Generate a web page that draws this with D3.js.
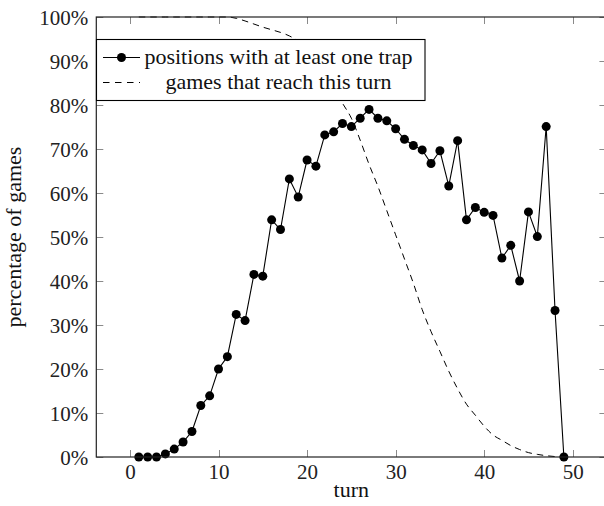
<!DOCTYPE html>
<html>
<head>
<meta charset="utf-8">
<script src="https://cdn.jsdelivr.net/npm/d3@7"></script>
</head>
<body style="margin:0;background:#fff">
<svg id="chart" width="604" height="506" style="display:block"></svg>
<script>
// Turn numbers
const turns = d3.range(1, 50);

// Share of positions with at least one trap, per turn (%)
const trapPct = [
  0, 0, 0, 0.7, 1.8, 3.4, 5.8, 11.7, 13.9, 20,
  22.8, 32.4, 31, 41.5, 41.1, 53.9, 51.7, 63.2, 59.1, 67.5,
  66.1, 73.2, 73.9, 75.8, 75.1, 77, 79, 77, 76.4, 74.6,
  72.2, 70.8, 69.8, 66.7, 69.6, 61.6, 71.9, 53.9, 56.7, 55.6,
  54.9, 45.2, 48.1, 40, 55.7, 50.1, 75.1, 33.3, 0
];

// Share of games that are still running at each turn (%)
const reachPct = [
  100, 100, 100, 100, 100, 100, 100, 100, 100, 100,
  100, 99.7, 99.1, 98.4, 97.7, 97.1, 96.5, 95.7, 94.5, 92.6,
  90.2, 87.2, 83.8, 80.4, 77, 72, 66.5, 61.5, 56, 50.5,
  45, 39.5, 33.5, 28.5, 24, 19.5, 15.5, 12, 9.5, 7,
  5, 3.8, 2.6, 1.7, 1, 0.6, 0.3, 0.1, 0
];

// Axis ticks
const xTicks = [0, 10, 20, 30, 40, 50];
const yTicks = [0, 10, 20, 30, 40, 50, 60, 70, 80, 90, 100];

const seriesLabels = ["positions with at least one trap", "games that reach this turn"];

const FONT = '"Liberation Serif"';

const svg = d3.select("#chart");

const plotLeft = 96.3, plotRight = 606.4, plotTop = 17, plotBottom = 457;
const x = d3.scaleLinear().domain([-3.8, 53.8]).range([plotLeft, plotRight]);
const y = d3.scaleLinear().domain([0, 100]).range([plotBottom, plotTop]);

const tickLen = 7;
const tickColor = "#8a8a8a";

// Tick marks pointing inward on all four sides
const tickG = svg.append("g").attr("stroke", tickColor).attr("stroke-width", 1);
xTicks.forEach(t => {
  const px = Math.round(x(t)) + 0.5;
  tickG.append("line").attr("x1", px).attr("x2", px).attr("y1", plotBottom).attr("y2", plotBottom - tickLen);
  tickG.append("line").attr("x1", px).attr("x2", px).attr("y1", plotTop).attr("y2", plotTop + tickLen);
});
yTicks.forEach(t => {
  const py = Math.round(y(t)) + 0.5;
  tickG.append("line").attr("x1", plotLeft).attr("x2", plotLeft + tickLen).attr("y1", py).attr("y2", py);
  tickG.append("line").attr("x1", plotRight).attr("x2", plotRight - tickLen).attr("y1", py).attr("y2", py);
});

// Tick labels via D3 axes, with their own ticks/lines hidden
const xAxis = d3.axisBottom(x).tickValues(xTicks).tickSize(0).tickPadding(0).tickFormat(d3.format("d"));
const gx = svg.append("g").attr("transform", `translate(0,${plotBottom})`).call(xAxis);
gx.attr("font-family", null).attr("font-size", null);
gx.select(".domain").remove();
gx.selectAll("text")
  .attr("dy", null).attr("y", 22)
  .style("font-family", FONT).style("font-size", "21px").attr("fill", "#222");

const yAxis = d3.axisLeft(y).tickValues(yTicks).tickSize(0).tickPadding(0).tickFormat(d => d + "%");
const gy = svg.append("g").attr("transform", `translate(${plotLeft - 8},0)`).call(yAxis);
gy.attr("font-family", null).attr("font-size", null);
gy.select(".domain").remove();
gy.selectAll("text")
  .attr("dy", null).attr("y", 7.5)
  .style("font-family", FONT).style("font-size", "21px").attr("fill", "#222");

// Axis titles
svg.append("text")
  .attr("x", (plotLeft + plotRight) / 2).attr("y", 497)
  .attr("text-anchor", "middle")
  .style("font-family", FONT).style("font-size", "22px").attr("fill", "#111")
  .text("turn");
svg.append("text")
  .attr("transform", `translate(21,${(plotTop + plotBottom) / 2}) rotate(-90)`)
  .attr("text-anchor", "middle")
  .style("font-family", FONT).style("font-size", "22px").attr("fill", "#111")
  .text("percentage of games");

// Data layers
const plot = svg.append("g");

const trapLine = d3.line().x((d, i) => x(turns[i])).y(d => y(d));
plot.append("path")
  .datum(trapPct)
  .attr("d", trapLine)
  .attr("fill", "none").attr("stroke", "#000").attr("stroke-width", 1.1);
plot.selectAll("circle.trap")
  .data(trapPct)
  .join("circle")
  .attr("class", "trap")
  .attr("cx", (d, i) => x(turns[i])).attr("cy", d => y(d))
  .attr("r", 4.5).attr("fill", "#000");

const reachLine = d3.line().curve(d3.curveMonotoneX).x((d, i) => x(turns[i])).y(d => y(d));
plot.append("path")
  .datum(reachPct)
  .attr("d", reachLine)
  .attr("fill", "none").attr("stroke", "#000").attr("stroke-width", 1)
  .attr("stroke-dasharray", "6.5,5");

// Axis frame
svg.append("rect")
  .attr("x", plotLeft).attr("y", plotTop)
  .attr("width", plotRight - plotLeft).attr("height", plotBottom - plotTop)
  .attr("fill", "none").attr("stroke", "#222").attr("stroke-width", 1.2);

// Legend
const lg = svg.append("g");
lg.append("rect")
  .attr("x", 96.5).attr("y", 39.5).attr("width", 328.5).attr("height", 61)
  .attr("fill", "#fff").attr("stroke", "#000").attr("stroke-width", 1.1);
const rowY = [57.5, 82.5];
lg.append("line")
  .attr("x1", 103).attr("x2", 140).attr("y1", rowY[0]).attr("y2", rowY[0])
  .attr("stroke", "#000").attr("stroke-width", 1.1);
lg.append("circle").attr("cx", 121.5).attr("cy", rowY[0]).attr("r", 4.5).attr("fill", "#000");
lg.append("line")
  .attr("x1", 103).attr("x2", 140).attr("y1", rowY[1]).attr("y2", rowY[1])
  .attr("stroke", "#000").attr("stroke-width", 1).attr("stroke-dasharray", "6.5,5.5");
seriesLabels.forEach((s, i) => {
  lg.append("text")
    .attr("x", 278.5).attr("y", rowY[i] + 6.5)
    .attr("text-anchor", "middle")
    .style("font-family", FONT).style("font-size", "22px").attr("fill", "#111")
    .text(s);
});
</script>
</body>
</html>
